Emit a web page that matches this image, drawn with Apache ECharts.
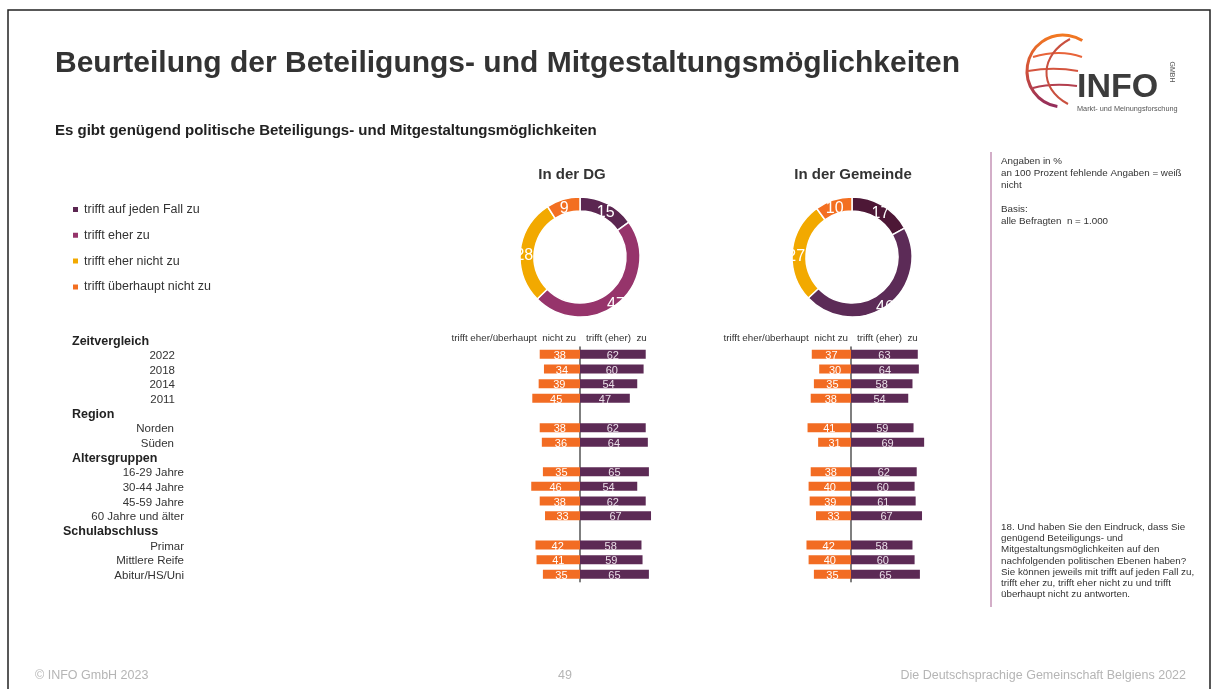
<!DOCTYPE html>
<html>
<head>
<meta charset="utf-8">
<title>Beurteilung der Beteiligungs- und Mitgestaltungsmöglichkeiten</title>
<script src="https://cdn.jsdelivr.net/npm/echarts@6/dist/echarts.min.js"></script>
<style>
  html, body { margin: 0; padding: 0; background: #fff; }
  #main { width: 1213px; height: 689px; }
</style>
</head>
<body>
<div id="main"></div>
<script>
// Antwortkategorien (Legende + Donuts)
var answers = ['trifft auf jeden Fall zu', 'trifft eher zu', 'trifft eher nicht zu', 'trifft überhaupt nicht zu'];
var donutDG = [15, 47, 28, 9];
var donutGemeinde = [17, 46, 27, 10];
var colorsDG = ['#5b2651', '#96346b', '#f2a900', '#f36f21'];
var colorsGemeinde = ['#4d1736', '#5c2b57', '#f2a900', '#f36f21'];

// Zeilen der Balken (Gruppenüberschriften haben keine Werte)
var rows = ['Zeitvergleich', '2022', '2018', '2014', '2011',
  'Region', 'Norden', 'Süden',
  'Altersgruppen', '16-29 Jahre', '30-44 Jahre', '45-59 Jahre', '60 Jahre und älter',
  'Schulabschluss', 'Primar', 'Mittlere Reife', 'Abitur/HS/Uni'];
var groupHeads = ['Zeitvergleich', 'Region', 'Altersgruppen', 'Schulabschluss'];

var dgNicht    = [null, 38, 34, 39, 45, null, 38, 36, null, 35, 46, 38, 33, null, 42, 41, 35];
var dgZu       = [null, 62, 60, 54, 47, null, 62, 64, null, 65, 54, 62, 67, null, 58, 59, 65];
var gemNicht   = [null, 37, 30, 35, 38, null, 41, 31, null, 38, 40, 39, 33, null, 42, 40, 35];
var gemZu      = [null, 63, 64, 58, 54, null, 59, 69, null, 62, 60, 61, 67, null, 58, 60, 65];

var FONT = '"Liberation Sans", Arial, sans-serif';
var ORANGE = '#f26c23';
var PURPLE = '#5c2a55';

// Stil je Zeile fuer die Beschriftung links
var groupKeys = ['y', 'r', 'a', 's'];
var rowStyle = [];
var g = -1;
rows.forEach(function (r) {
  var h = groupHeads.indexOf(r);
  if (h >= 0) { g = h; rowStyle.push(h === 3 ? 'hs' : 'h'); }
  else rowStyle.push(groupKeys[g]);
});

var barRows = rows.slice(1);
function neg(arr) { return arr.slice(1).map(function (v) { return v == null ? null : -v; }); }
function pos(arr) { return arr.slice(1); }

var chart = echarts.init(document.getElementById('main'));

var barLabel = function (col) {
  return {
    show: true, position: 'inside', color: col, fontSize: 11, fontFamily: FONT, offset: [0, 1.5],
    formatter: function (p) { return Math.abs(p.value); }
  };
};

function pie(name, data, colors, cx) {
  return {
    name: name,
    type: 'pie',
    center: [cx, 257],
    radius: [46, 60],
    startAngle: 90,
    silent: true,
    itemStyle: { borderColor: '#fff', borderWidth: 1.5 },
    label: {
      show: true, position: 'inside', formatter: '{v|{c}}',
      rich: { v: { color: '#fff', fontSize: 16, fontFamily: FONT, padding: [10, 0, 0, 0] } }
    },
    labelLine: { show: false },
    data: data.map(function (v, i) {
      return { name: answers[i], value: v, itemStyle: { color: colors[i] } };
    })
  };
}

var option = {
  backgroundColor: '#fff',
  animation: false,
  textStyle: { fontFamily: FONT },
  title: [
    {
      text: 'Beurteilung der Beteiligungs- und Mitgestaltungsmöglichkeiten',
      left: 50, top: 44,
      textStyle: { fontSize: 30, fontWeight: 'bold', color: '#333', fontFamily: FONT }
    },
    {
      text: 'Es gibt genügend politische Beteiligungs- und Mitgestaltungsmöglichkeiten',
      left: 50, top: 118,
      textStyle: { fontSize: 15, fontWeight: 'bold', color: '#222', fontFamily: FONT }
    },
    {
      text: 'In der DG', left: 567, top: 162, textAlign: 'center',
      textStyle: { fontSize: 15, fontWeight: 'bold', color: '#333', fontFamily: FONT }
    },
    {
      text: 'In der Gemeinde', left: 848, top: 162, textAlign: 'center',
      textStyle: { fontSize: 15, fontWeight: 'bold', color: '#333', fontFamily: FONT }
    }
  ],
  legend: {
    orient: 'vertical',
    left: 71, top: 203, padding: 0,
    itemWidth: 7, itemHeight: 7, itemGap: 12.8,
    icon: 'rect',
    selectedMode: false,
    data: answers,
    textStyle: { fontSize: 12.5, color: '#333', fontFamily: FONT }
  },
  grid: [
    { left: 474, width: 212, top: 347, height: 234.7 },
    { left: 745, width: 212, top: 347, height: 234.7 },
    { left: 184, width: 1, top: 334, height: 249.3 }
  ],
  xAxis: [
    { gridIndex: 0, type: 'value', min: -100, max: 100, show: false },
    { gridIndex: 1, type: 'value', min: -100, max: 100, show: false },
    { gridIndex: 2, type: 'value', min: 0, max: 1, show: false }
  ],
  yAxis: [
    {
      gridIndex: 0, type: 'category', inverse: true, data: barRows,
      axisLine: { show: true, lineStyle: { color: '#555', width: 1.5 } },
      axisTick: { show: false }, axisLabel: { show: false }, splitLine: { show: false }
    },
    {
      gridIndex: 1, type: 'category', inverse: true, data: barRows,
      axisLine: { show: true, lineStyle: { color: '#555', width: 1.5 } },
      axisTick: { show: false }, axisLabel: { show: false }, splitLine: { show: false }
    },
    {
      gridIndex: 2, type: 'category', inverse: true, data: rows,
      axisLine: { show: false }, axisTick: { show: false }, splitLine: { show: false },
      axisLabel: {
        margin: 0, align: 'right', interval: 0,
        formatter: function (v, i) { return '{' + rowStyle[i] + '|' + v + '}'; },
        rich: {
          h:  { fontSize: 12.5, fontWeight: 'bold', color: '#222', width: 112, align: 'left', fontFamily: FONT },
          hs: { fontSize: 12.5, fontWeight: 'bold', color: '#222', width: 121, align: 'left', fontFamily: FONT },
          y:  { fontSize: 11.5, color: '#333', padding: [0, 9, 0, 0], fontFamily: FONT },
          r:  { fontSize: 11.5, color: '#333', padding: [0, 10, 0, 0], fontFamily: FONT },
          a:  { fontSize: 11.5, color: '#333', fontFamily: FONT },
          s:  { fontSize: 11.5, color: '#333', fontFamily: FONT }
        }
      }
    }
  ],
  series: [
    pie('In der DG', donutDG, colorsDG, 580),
    pie('In der Gemeinde', donutGemeinde, colorsGemeinde, 852),
    {
      type: 'bar', xAxisIndex: 0, yAxisIndex: 0, barWidth: 9, barGap: '-100%', silent: true,
      itemStyle: { color: ORANGE }, label: barLabel('#fff'), data: neg(dgNicht)
    },
    {
      type: 'bar', xAxisIndex: 0, yAxisIndex: 0, barWidth: 9, barGap: '-100%', silent: true,
      itemStyle: { color: PURPLE }, label: barLabel('#eadfe8'), data: pos(dgZu)
    },
    {
      type: 'bar', xAxisIndex: 1, yAxisIndex: 1, barWidth: 9, barGap: '-100%', silent: true,
      itemStyle: { color: ORANGE }, label: barLabel('#fff'), data: neg(gemNicht)
    },
    {
      type: 'bar', xAxisIndex: 1, yAxisIndex: 1, barWidth: 9, barGap: '-100%', silent: true,
      itemStyle: { color: PURPLE }, label: barLabel('#eadfe8'), data: pos(gemZu)
    }
  ],
  graphic: [
    // Folienrahmen
    { type: 'rect', shape: { x: 8, y: 10, width: 1202, height: 700 }, style: { fill: 'none', stroke: '#222', lineWidth: 1.5 }, z: -10 },
    // Spaltenkoepfe
    { type: 'text', x: 576, y: 338, style: { text: 'trifft eher/überhaupt  nicht zu', align: 'right', verticalAlign: 'middle', fill: '#333', font: '9.8px ' + FONT } },
    { type: 'text', x: 586, y: 338, style: { text: 'trifft (eher)  zu', align: 'left', verticalAlign: 'middle', fill: '#333', font: '9.8px ' + FONT } },
    { type: 'text', x: 848, y: 338, style: { text: 'trifft eher/überhaupt  nicht zu', align: 'right', verticalAlign: 'middle', fill: '#333', font: '9.8px ' + FONT } },
    { type: 'text', x: 857, y: 338, style: { text: 'trifft (eher)  zu', align: 'left', verticalAlign: 'middle', fill: '#333', font: '9.8px ' + FONT } },
    // rechte Spalte
    { type: 'line', shape: { x1: 991, y1: 152, x2: 991, y2: 607 }, style: { stroke: '#c593b6', lineWidth: 1.5 } },
    {
      type: 'text', x: 1001, y: 155,
      style: {
        text: 'Angaben in %\nan 100 Prozent fehlende Angaben = weiß\nnicht\n\nBasis:\nalle Befragten  n = 1.000',
        fill: '#333', font: '9.8px ' + FONT, lineHeight: 12
      }
    },
    {
      type: 'text', x: 1001, y: 522,
      style: {
        text: '18. Und haben Sie den Eindruck, dass Sie\ngenügend Beteiligungs- und\nMitgestaltungsmöglichkeiten auf den\nnachfolgenden politischen Ebenen haben?\nSie können jeweils mit trifft auf jeden Fall zu,\ntrifft eher zu, trifft eher nicht zu und trifft\nüberhaupt nicht zu antworten.',
        fill: '#333', font: '9.8px ' + FONT, lineHeight: 11.1
      }
    },
    // Fusszeile
    { type: 'text', x: 35, y: 676, style: { text: '© INFO GmbH 2023', verticalAlign: 'middle', fill: '#b5b5b5', font: '12.5px ' + FONT } },
    { type: 'text', x: 565, y: 676, style: { text: '49', align: 'center', verticalAlign: 'middle', fill: '#b5b5b5', font: '12.5px ' + FONT } },
    { type: 'text', x: 1186, y: 676, style: { text: 'Die Deutschsprachige Gemeinschaft Belgiens 2022', align: 'right', verticalAlign: 'middle', fill: '#b5b5b5', font: '12.5px ' + FONT } },
    // Logo
    {
      type: 'arc',
      shape: { cx: 1063, cy: 71, r: 36, startAngle: Math.PI * 0.55, endAngle: Math.PI * 1.68, clockwise: true },
      style: {
        fill: 'none', lineWidth: 3,
        stroke: new echarts.graphic.LinearGradient(0, 0, 0, 1, [
          { offset: 0, color: '#f47b20' }, { offset: 0.5, color: '#d04f3a' }, { offset: 1, color: '#8e2a5e' }
        ])
      }
    },
    { type: 'bezierCurve', shape: { x1: 1033, y1: 57, x2: 1082, y2: 57, cpx1: 1050, cpy1: 52, cpx2: 1068, cpy2: 52 }, style: { stroke: '#e8643a', lineWidth: 2, fill: 'none' } },
    { type: 'bezierCurve', shape: { x1: 1028, y1: 71, x2: 1078, y2: 71, cpx1: 1045, cpy1: 68, cpx2: 1062, cpy2: 68 }, style: { stroke: '#d4543e', lineWidth: 2, fill: 'none' } },
    { type: 'bezierCurve', shape: { x1: 1033, y1: 88, x2: 1077, y2: 86, cpx1: 1048, cpy1: 84, cpx2: 1062, cpy2: 84 }, style: { stroke: '#b33f4e', lineWidth: 2, fill: 'none' } },
    { type: 'bezierCurve', shape: { x1: 1070, y1: 39, x2: 1068, y2: 104, cpx1: 1040, cpy1: 55, cpx2: 1038, cpy2: 88 }, style: { stroke: '#c9503f', lineWidth: 2, fill: 'none' } },
    { type: 'text', x: 1077, y: 88, style: { text: 'INFO', verticalAlign: 'middle', fill: '#3c3c3c', font: 'bold 34px ' + FONT } },
    { type: 'text', x: 1172, y: 72, rotation: -Math.PI / 2, style: { text: 'GMBH', align: 'center', verticalAlign: 'middle', fill: '#555', font: '7px ' + FONT } },
    { type: 'text', x: 1077, y: 109, style: { text: 'Markt- und Meinungsforschung', verticalAlign: 'middle', fill: '#555', font: '7.3px ' + FONT } }
  ]
};

chart.setOption(option);
</script>
</body>
</html>
